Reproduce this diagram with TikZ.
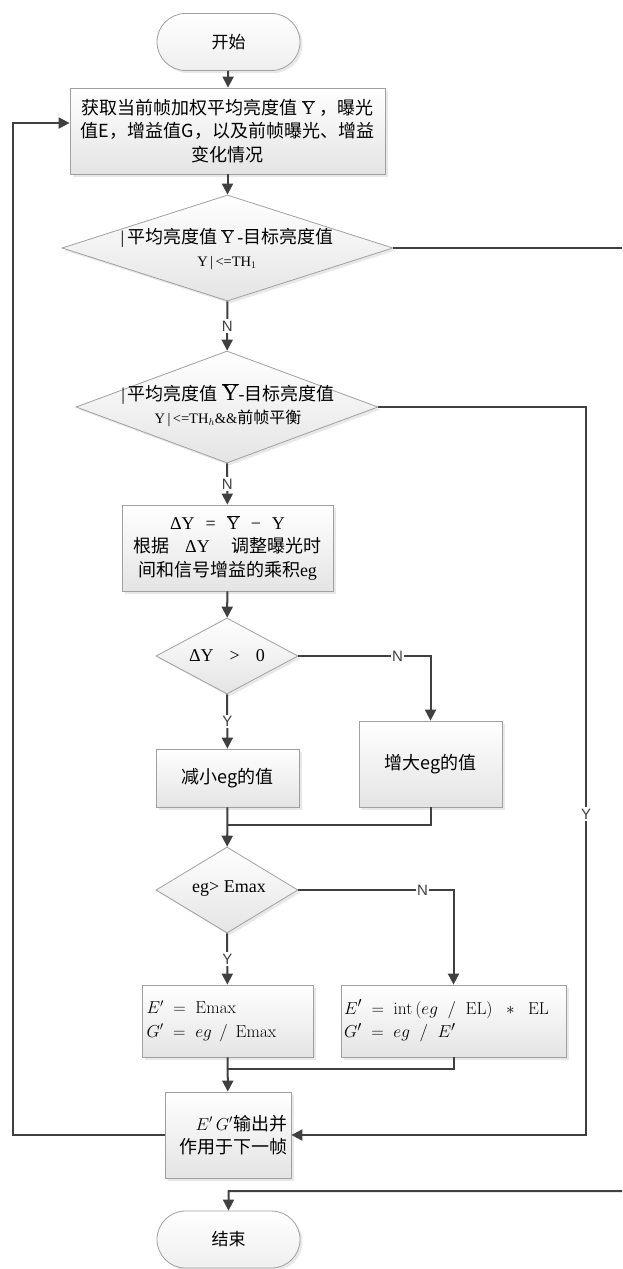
\documentclass[tikz,border=0pt]{standalone}
\usepackage[no-math]{fontspec}
\setmainfont{Noto Sans CJK SC}
\newfontfamily\ser{Liberation Serif}
\newfontfamily\lab{Liberation Sans}
\usetikzlibrary{shapes.geometric,shapes.misc,arrows.meta,shadows}
\definecolor{ln}{HTML}{404040}
\definecolor{bd}{HTML}{A0A0A0}
\definecolor{bot}{HTML}{E4E4E4}
\newcommand{\ybar}{$\overline{\hbox{\ser Y}}$}
\begin{document}
\begin{tikzpicture}[x=1pt,y=-1pt,
  base/.style={draw=bd, line width=0.8pt, top color=white, bottom color=bot, inner sep=0pt,
    drop shadow={shadow xshift=2.5pt, shadow yshift=-2.5pt, fill=black!18}},
  proc/.style={base, rectangle, font=\fontsize{18}{23.5}\selectfont, align=center},
  term/.style={base, rounded rectangle, minimum width=143pt, minimum height=57pt,
    top color=white, bottom color=bot!60, font=\fontsize{17}{20}\selectfont},
  dec/.style={base, diamond},
  txt/.style={font=\fontsize{18}{23.5}\selectfont, align=center, inner sep=0pt},
  conn/.style={draw=ln, line width=2pt, -{Triangle[length=11pt,width=11pt]}},
  lnk/.style={draw=ln, line width=2pt},
  lbl/.style={font=\lab\fontsize{15}{15}\selectfont, fill=white, inner sep=1.5pt, text=ln}
]
\useasboundingbox (0,0) rectangle (622,1269);

% nodes
\node[term] (start) at (228.5,42) {开始};
\node[proc, minimum width=315pt, minimum height=86pt] (b1) at (227.5,131)
  {获取当前帧加权平均亮度值 \ybar\ ，曝光\\值E，增益值G，以及前帧曝光、增益\\变化情况};

\node[dec, minimum width=331pt, minimum height=106pt] (d1) at (227.5,248) {};
\node[txt] (t1) at (227,249) {{\ser|\,}平均亮度值 \ybar{\ser\,-}目标亮度值\\{\ser\fontsize{14.5}{14.5}\selectfont Y\,|\,<=TH$_1$}\hspace{12pt}};

\node[dec, minimum width=302pt, minimum height=112pt] (d2) at (227,407) {};
\node[txt] (t2) at (228,405) {{\ser|\,}平均亮度值 {\fontsize{23}{23}\selectfont$\overline{\hbox{\ser Y}}$}{\ser -}目标亮度值\\{\ser\fontsize{14.5}{14.5}\selectfont Y\,|\,<=TH$_h$\&\&}{\fontsize{16}{16}\selectfont 前帧平衡}};

\node[proc, minimum width=211pt, minimum height=86pt] (b3) at (227.5,548)
  {{\ser ΔY\hspace{11pt}=\hspace{11pt}\ybar\hspace{11pt}−\hspace{11pt}Y}\\根据{\ser\hspace{16pt}ΔY\hspace{22pt}}调整曝光时\\间和信号增益的乘积{\ser eg}};

\node[dec, minimum width=142pt, minimum height=76pt] (d3) at (227,656) {};
\node[txt] (t3) at (227,656) {{\ser ΔY\hspace{16pt}>\hspace{16pt}0}};

\node[proc, minimum width=143pt, minimum height=58pt] (bdec) at (227.5,778) {减小eg的值};
\node[proc, minimum width=143pt, minimum height=86pt] (binc) at (430.5,764) {增大eg的值};

\node[dec, minimum width=142pt, minimum height=86pt] (d4) at (227,890) {};
\node[txt] (t4) at (229,889) {{\ser eg> Emax}};

\node[proc, minimum width=171pt, minimum height=72pt, text width=162pt, align=left, inner xsep=4.5pt] (bemax) at (227.5,1021)
  {$E'\;=\;\mathrm{Emax}$\\$G'\;=\;eg\;\,/\;\,\mathrm{Emax}$};
\node[proc, minimum width=225pt, minimum height=72pt, text width=219pt, align=left, inner xsep=3pt, font=\fontsize{19}{23.5}\selectfont] (bint) at (453.5,1021)
  {$E'\;=\;\mathrm{int}\,(eg\;\;/\;\;\mathrm{EL})\;\;\ast\;\;\mathrm{EL}$\\$G'\;=\;eg\;\;/\;\;E'$};

\node[proc, minimum width=126pt, minimum height=86pt, text width=118pt, align=right, inner xsep=4pt] (out) at (228,1135)
  {$E'\,G'$输出并\\作用于下一帧};

\node[term] (end) at (228.5,1239.5) {结束};

% coordinates
\coordinate (m1) at (227.5,825);
\coordinate (m2) at (227.5,1069);
\coordinate (L2) at (13,123);
\coordinate (R) at (586,0);
\coordinate (E1) at (622,248);
\coordinate (E2) at (622,1191);

% connectors
\draw[conn] (start) -- (b1);
\draw[conn] (b1) -- (d1);
\draw[conn] (d1) -- node[lbl]{N} (d2);
\draw[conn] (d2) -- node[lbl]{N} (b3);
\draw[conn] (b3) -- (d3);
\draw[conn] (d3) -- node[lbl]{Y} (bdec);
\draw[conn] (d3.east) -- node[lbl,pos=0.75]{N} (d3.east -| binc) -- (binc);
\draw[lnk] (binc.south) |- (m1);
\draw[conn] (bdec) -- (d4);
\draw[conn] (d4) -- node[lbl]{Y} (bemax);
\draw[conn] (d4.east) -- node[lbl,pos=0.8]{N} (d4.east -| bint) -- (bint);
\draw[lnk] (bint.south) |- (m2);
\draw[conn] (bemax) -- (out);
\draw[conn] (out.west) -| (L2) -- (b1.west |- L2);
\draw[conn] (d2.east) -- (d2.east -| R) -- node[lbl,pos=0.559]{Y} (R |- out.east) -- (out.east);
\draw[lnk] (d1.east) -- (E1);
\draw[conn] (E2) -- (E2 -| end) -- (end);
\end{tikzpicture}
\end{document}
